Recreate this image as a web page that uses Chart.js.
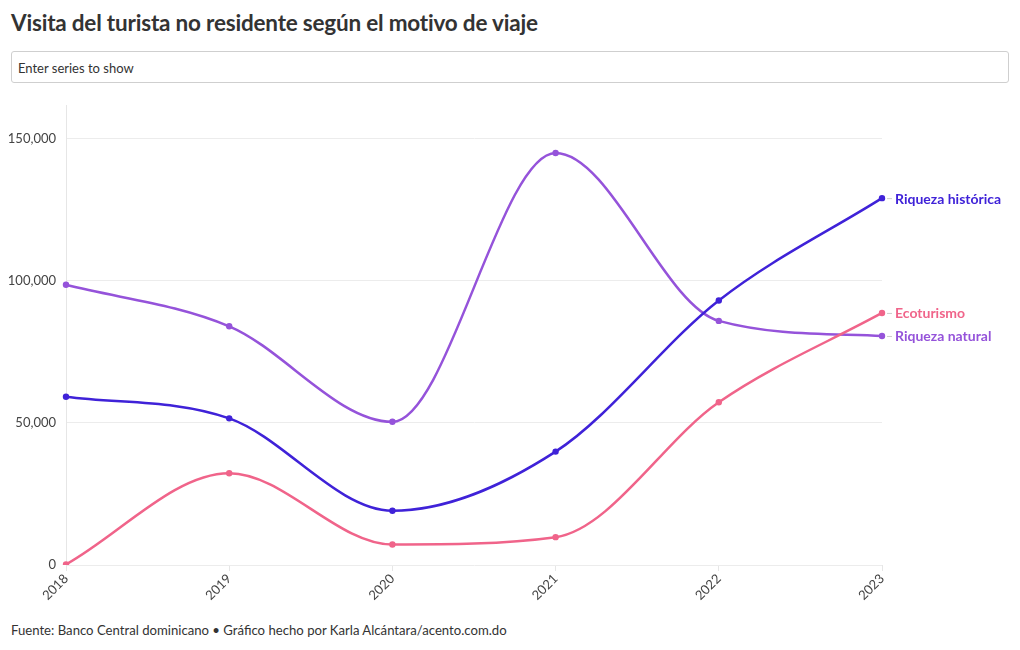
<!DOCTYPE html>
<html>
<head>
<meta charset="utf-8">
<script src="https://cdn.jsdelivr.net/npm/chart.js@4/dist/chart.umd.min.js"></script>
<style>
  html, body { margin: 0; padding: 0; background: #fff; }
  body { width: 1020px; height: 650px; position: relative; overflow: hidden; font-family: Lato, "Open Sans", sans-serif; color: #333; }
  #title { position: absolute; left: 11px; top: 9px; font-size: 22.5px; font-weight: 700; color: #333; white-space: nowrap; letter-spacing: -0.2px; }
  #filter { position: absolute; left: 11px; top: 51px; width: 998px; height: 32px; border: 1px solid #cfcfcf; border-radius: 3px; box-sizing: border-box; font-size: 13px; color: #333; padding: 8px 0 0 6px; background: #fff; }
  #wrap { position: absolute; left: 0; top: 88px; width: 1020px; height: 533px; }
  #footer { position: absolute; left: 11px; top: 622px; font-size: 13.15px; color: #333; white-space: nowrap; }
</style>
</head>
<body>
<div id="wrap"><canvas id="c"></canvas></div>
<div id="title">Visita del turista no residente según el motivo de viaje</div>
<div id="filter">Enter series to show</div>
<div id="footer">Fuente: Banco Central dominicano • Gráfico hecho por Karla Alcántara/acento.com.do</div>
<script>
const years = ["2018", "2019", "2020", "2021", "2022", "2023"];
const riquezaHistorica = [59200, 51600, 19100, 39900, 93100, 129100];
const ecoturismo = [200, 32300, 7200, 9800, 57300, 88700];
const riquezaNatural = [98600, 84000, 50400, 145000, 85900, 80600];
const seriesNames = ["Riqueza histórica", "Ecoturismo", "Riqueza natural"];
const yTicks = [0, 50000, 100000, 150000];

const colors = ["#3f22d8", "#f0648a", "#9553da"];
const seriesData = [riquezaHistorica, ecoturismo, riquezaNatural];

const endLabels = {
  id: 'endLabels',
  afterDatasetsDraw(chart) {
    const ctx = chart.ctx;
    ctx.save();
    chart.data.datasets.forEach((ds, i) => {
      const meta = chart.getDatasetMeta(i);
      const pt = meta.data[meta.data.length - 1];
      ctx.strokeStyle = '#cccccc';
      ctx.lineWidth = 1;
      ctx.beginPath();
      ctx.moveTo(pt.x + 5, pt.y + 0.5);
      ctx.lineTo(pt.x + 10, pt.y + 0.5);
      ctx.stroke();
      ctx.fillStyle = ds.borderColor;
      ctx.font = '700 14px Lato, "Open Sans", sans-serif';
      ctx.textAlign = 'left';
      ctx.textBaseline = 'middle';
      ctx.fillText(ds.label, pt.x + 13, pt.y + 1);
    });
    ctx.restore();
  }
};

new Chart(document.getElementById('c'), {
  type: 'line',
  data: {
    labels: years,
    datasets: seriesNames.map((n, i) => ({
      label: n,
      data: seriesData[i],
      borderColor: colors[i],
      backgroundColor: colors[i],
      borderWidth: 2.5,
      pointRadius: 3.2,
      pointBorderWidth: 0,
      cubicInterpolationMode: 'monotone',
      fill: false
    }))
  },
  options: {
    responsive: true,
    maintainAspectRatio: false,
    animation: false,
    layout: { padding: { top: 6, right: 138, left: 0, bottom: 0 } },
    plugins: { legend: { display: false }, tooltip: { enabled: false } },
    scales: {
      x: {
        offset: false,
        grid: { display: true, drawOnChartArea: false, drawTicks: true, tickLength: 6, color: '#e6e6e6' },
        border: { display: false },
        ticks: { minRotation: 45, maxRotation: 45, color: '#444', font: { family: 'Lato, "Open Sans", sans-serif', size: 13 }, padding: 0 },
        afterFit(scale) { scale.height = 56; }
      },
      y: {
        min: 0,
        max: 161600,
        afterBuildTicks(scale) { scale.ticks = yTicks.map(v => ({ value: v })); },
        grid: { color: '#ececec', drawTicks: false },
        border: { display: true, color: '#e6e6e6' },
        ticks: {
          color: '#444',
          padding: 10,
          font: { family: 'Lato, "Open Sans", sans-serif', size: 13 },
          callback: v => v.toLocaleString('en-US')
        },
        afterFit(scale) { scale.width = 66; }
      }
    }
  },
  plugins: [endLabels]
});
</script>
</body>
</html>
